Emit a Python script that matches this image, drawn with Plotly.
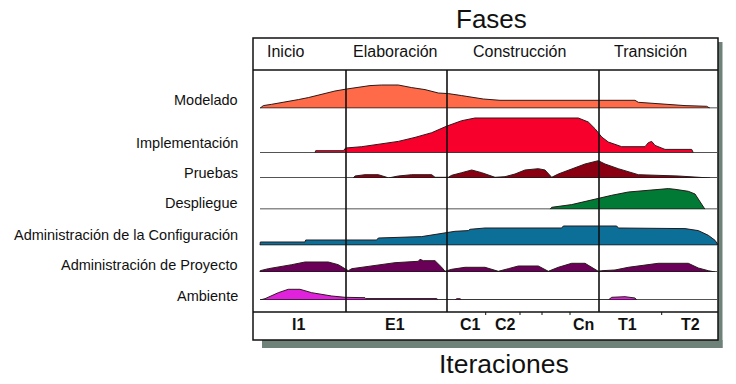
import plotly.graph_objects as go

W, H = 736, 384

# ---------------- data (time units vs. effort heights) ----------------
disciplines = ["Modelado", "Implementación", "Pruebas", "Despliegue",
               "Administración de la Configuración", "Administración de Proyecto", "Ambiente"]

modelado = [(0, 0), (3.3, 2.7), (11.7, 4), (20, 5.3), (28.3, 6.7), (38.3, 8.7), (48.3, 10.7),
            (58.3, 13.3), (66.7, 15.3), (75, 17.3), (86.7, 19.3), (98.3, 20.7), (110, 22.7),
            (121.7, 23.3), (138.3, 23.3), (151.7, 20.7), (165, 18.7), (178.3, 15.3), (188.3, 14.7),
            (201.7, 12.7), (211.7, 11.3), (223.3, 9.3), (240, 8), (375, 8), (378.3, 6),
            (401.7, 4), (425, 2.7), (446.7, 2), (450, 0)]

implementacion = [(55, 0), (55.7, 2), (83.3, 2), (85.7, 4.7), (101.7, 6), (121.7, 8.7),
                  (138.3, 11.3), (155, 15.3), (171.7, 20), (187, 26.7), (201.7, 32), (215, 34.7),
                  (318.3, 34.7), (328.3, 30.7), (335, 24), (341.7, 15.7), (348.3, 10.7),
                  (361.7, 6), (385, 6), (388.3, 10), (391.7, 11.3), (395, 7.3), (405, 3.3),
                  (431.7, 3.3), (433.3, 0)]

pruebas = [(93.3, 0), (95, 2), (105, 3.3), (118.3, 3.3), (126.7, 0.7), (128.3, 0), (138.3, 2),
           (151.7, 3.3), (171.7, 3.3), (175, 0.7), (188.3, 0.7), (191.7, 2.7), (201.7, 5.3),
           (211.7, 8), (221.7, 5.3), (235, 0.7), (245, 1.3), (255, 4), (265, 8), (278.3, 9.3),
           (285, 8), (291.7, 0.7), (298.3, 4), (311.7, 9.3), (325, 14), (338.3, 17.3),
           (345, 14), (358.3, 9.3), (378.3, 3.3), (418.3, 2), (438.3, 0.7), (450, 0)]

despliegue = [(290, 0), (291.7, 2), (311.7, 4.7), (328.3, 8.7), (341.7, 12), (351.7, 14),
              (368.3, 17.3), (385, 18.7), (395, 20), (408.3, 20.7), (415, 20), (428.3, 18),
              (435, 15.3), (441.7, 5.3), (445, 0)]

admin_config = [(0, 0), (0.3, 3.3), (45, 3.3), (45.7, 5.3), (116.7, 5.3), (118.3, 7.3),
                (161.7, 8.7), (175, 10.7), (188.3, 12.7), (195, 14), (208.3, 14.7), (210, 16),
                (225, 17.3), (301.7, 17.3), (303.3, 19.3), (356.7, 19.3), (358.3, 17.3),
                (425, 16.7), (438.3, 14.7), (448.3, 10), (455, 5), (458.3, 0)]

admin_proyecto = [(0, 0), (0.2, 1.3), (8.3, 3.3), (18.3, 4.7), (31.7, 7.3), (45, 10), (68.3, 10),
                  (78.3, 7.3), (85, 2.7), (88.3, 1.3), (91.7, 3.3), (105, 5.3), (121.7, 7.3),
                  (135, 9.3), (158.3, 10.7), (160, 12.7), (163.3, 11.3), (175, 11.3), (181.7, 4.7),
                  (185, 0.7), (191.7, 2.7), (205, 4.7), (225, 4.7), (231.7, 2.7), (238.3, 0.7),
                  (248.3, 3.3), (258.3, 6), (278.3, 6), (288.3, 0.7), (298.3, 4.7), (311.7, 8.7),
                  (325, 8.7), (335, 2.7), (338.3, 0.7), (341.7, 1.3), (355, 2), (368.3, 4.7),
                  (398.3, 8.7), (428.3, 8.7), (438.3, 4), (448.3, 1.3), (455, 0)]

ambiente = [(0, 0), (5, 1.3), (18.3, 7.3), (28.3, 10.7), (40, 10.7), (51.7, 7.3), (71.7, 4),
            (85, 2.7), (105, 2.3), (105.7, 1.4), (176.7, 1.4), (178.3, 0), (195, 0), (196.7, 1.3),
            (200, 1.3), (201.7, 0), (348.3, 0), (351.7, 2.7), (365, 3.3), (375, 2), (376.7, 0)]

series = [modelado, implementacion, pruebas, despliegue, admin_config, admin_proyecto, ambiente]

phases = ["Inicio", "Elaboración", "Construcción", "Transición"]
phase_label_t = [25, 135, 259, 390]
phase_bounds = [86, 187, 339]

iterations = ["I1", "E1", "C1", "C2", "Cn", "T1", "T2"]
iteration_t = [38, 135, 210, 245, 323, 367, 430]
iteration_ticks = [225.7, 260, 282, 310, 401.7]

# ---------------- styling / layout ----------------
colors = ["#FF6B48", "#F7002B", "#8A0012", "#007A34", "#0B6F98", "#6A0058", "#E022DC"]
baseline_px = [108.3, 152.7, 178, 209.3, 245.3, 272, 300]
label_px = [100, 143, 173, 203, 235, 265, 296]
ROW_H = 40
T_MIN, T_MAX = 0, 457
FONT = "Liberation Sans, Arial, sans-serif"


def yp(py):
    return 1 - py / H


fig = go.Figure()
layout_axes = {}
shapes = []

for i, (name, pts, col) in enumerate(zip(disciplines, series, colors)):
    ax = f"y{i + 2}"
    b = baseline_px[i]
    layout_axes[f"yaxis{i + 2}"] = dict(domain=[yp(b), yp(b - ROW_H)], range=[0, ROW_H],
                                        visible=False, fixedrange=True, anchor="x")
    xs = [p[0] for p in pts]
    ys = [p[1] for p in pts]
    fig.add_trace(go.Scatter(x=xs, y=ys, yaxis=ax, mode="lines", fill="tozeroy",
                             fillcolor=col, line=dict(color="#2b1a1a", width=1),
                             hoverinfo="skip", showlegend=False))
    fig.add_trace(go.Scatter(x=[T_MIN, T_MAX], y=[0, 0], yaxis=ax, mode="lines",
                             line=dict(color="#1a1a1a", width=1.6),
                             hoverinfo="skip", showlegend=False))

# box geometry
BOX_L, BOX_R = -7, 458
BOX_T, HEAD_B, ITER_T, BOX_B = 38, 70, 312, 340
shadow = "#6F827A"
shapes.append(dict(type="rect", xref="x", yref="paper", x0=BOX_R, x1=BOX_R + 4.5,
                   y0=yp(348), y1=yp(42), fillcolor=shadow, line=dict(width=0), layer="below"))
shapes.append(dict(type="rect", xref="x", yref="paper", x0=2, x1=BOX_R + 4.5,
                   y0=yp(348), y1=yp(BOX_B), fillcolor=shadow, line=dict(width=0), layer="below"))
shapes.append(dict(type="rect", xref="x", yref="paper", x0=BOX_L, x1=BOX_R,
                   y0=yp(BOX_B), y1=yp(BOX_T), fillcolor="rgba(0,0,0,0)",
                   line=dict(color="#111", width=1.5)))
for py in (HEAD_B, ITER_T):
    shapes.append(dict(type="line", xref="x", yref="paper", x0=BOX_L, x1=BOX_R,
                       y0=yp(py), y1=yp(py), line=dict(color="#111", width=1.5)))
for t in phase_bounds:
    shapes.append(dict(type="line", xref="x", yref="paper", x0=t, x1=t,
                       y0=yp(ITER_T), y1=yp(HEAD_B), line=dict(color="#111", width=1.6)))
for t in iteration_ticks:
    shapes.append(dict(type="line", xref="x", yref="paper", x0=t, x1=t,
                       y0=yp(ITER_T + 3), y1=yp(ITER_T), line=dict(color="#111", width=1)))

annotations = []
for name, py in zip(disciplines, label_px):
    annotations.append(dict(text=name, xref="paper", yref="paper", x=240 / W, y=yp(py),
                            xanchor="right", yanchor="middle", showarrow=False,
                            font=dict(family=FONT, size=14.5, color="#111")))
for name, t in zip(phases, phase_label_t):
    annotations.append(dict(text=name, xref="x", yref="paper", x=t, y=yp(52),
                            xanchor="center", yanchor="middle", showarrow=False,
                            font=dict(family=FONT, size=16, color="#111")))
for name, t in zip(iterations, iteration_t):
    annotations.append(dict(text=name, xref="x", yref="paper", x=t, y=yp(324),
                            xanchor="center", yanchor="middle", showarrow=False,
                            font=dict(family=FONT, size=16, color="#111", weight="bold")))
annotations.append(dict(text="Fases", xref="paper", yref="paper", x=491 / W, y=yp(19),
                        xanchor="center", yanchor="middle", showarrow=False,
                        font=dict(family=FONT, size=26, color="#111")))
annotations.append(dict(text="Iteraciones", xref="paper", yref="paper", x=504 / W,
                        y=yp(364), xanchor="center", yanchor="middle", showarrow=False,
                        font=dict(family=FONT, size=26.5, color="#111")))

fig.update_layout(
    width=W, height=H, margin=dict(l=0, r=0, t=0, b=0),
    paper_bgcolor="white", plot_bgcolor="rgba(0,0,0,0)",
    xaxis=dict(domain=[0, 1], range=[-260, 476], visible=False, fixedrange=True),
    yaxis=dict(domain=[0, 1], range=[0, 1], visible=False, fixedrange=True),
    shapes=shapes, annotations=annotations, showlegend=False,
    **layout_axes,
)

fig.write_html("out.html", config={"displayModeBar": False, "staticPlot": True},
               post_script="document.body.style.margin='0px';document.body.style.overflow='hidden';")
